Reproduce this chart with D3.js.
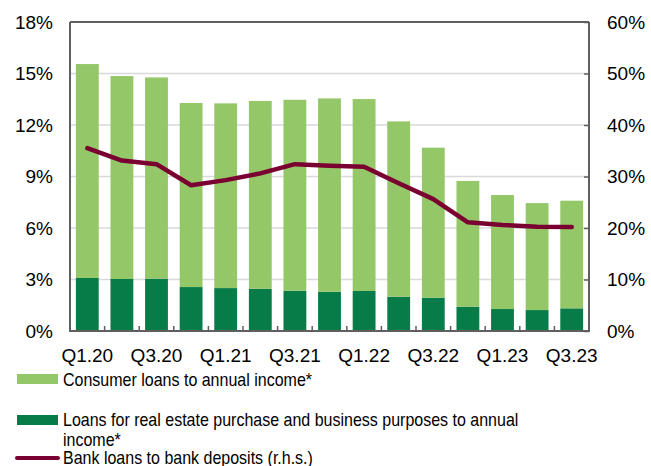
<html>
<head>
<script src="https://d3js.org/d3.v7.min.js"></script>
<style>
  body { margin: 0; background: #fff; }
  text { font-family: "Liberation Sans", Arial, sans-serif; fill: #000; }
</style>
</head>
<body>
<script>
// data
var quarters = ["Q1.20","Q2.20","Q3.20","Q4.20","Q1.21","Q2.21","Q3.21","Q4.21",
                "Q1.22","Q2.22","Q3.22","Q4.22","Q1.23","Q2.23","Q3.23"];
var realEstate = [3.09,3.03,3.05,2.56,2.50,2.46,2.35,2.29,2.33,2.00,1.94,1.42,1.28,1.22,1.32];
var consumer = [12.46,11.82,11.72,10.72,10.76,10.94,11.12,11.26,11.18,10.21,8.74,7.32,6.64,6.23,6.27];
var loansToDeposits = [35.5,33.1,32.4,28.3,29.3,30.6,32.4,32.1,31.9,28.7,25.6,21.1,20.6,20.25,20.2];
var leftTicks = [0,3,6,9,12,15,18];
var rightTicks = [0,10,20,30,40,50,60];
var shownLabels = ["Q1.20","Q3.20","Q1.21","Q3.21","Q1.22","Q3.22","Q1.23","Q3.23"];

var W = 651, H = 466;
var pLeft = 70, pRight = 589, pTop = 22, pBottom = 331;

var cLight = "#93c767", cDark = "#077c48", cLine = "#7b0032", cAxis = "#5f5f5f", cGrid = "#d9d9d9";

var svg = d3.select("body").append("svg").attr("width", W).attr("height", H);

var x = d3.scaleBand().domain(quarters).range([pLeft, pRight]).paddingInner(0.34).paddingOuter(0.17);
var y = d3.scaleLinear().domain([0, 18]).range([pBottom, pTop]);
var y2 = d3.scaleLinear().domain([0, 60]).range([pBottom, pTop]);

// gridlines
svg.append("g").selectAll("line").data(leftTicks.slice(1, -1)).enter().append("line")
  .attr("x1", pLeft).attr("x2", pRight)
  .attr("y1", function(d){ return y(d); }).attr("y2", function(d){ return y(d); })
  .attr("stroke", cGrid).attr("stroke-width", 1.3);

// stacked bars
var stack = quarters.map(function(q, i){ return {q: q, re: realEstate[i], co: consumer[i]}; });
svg.append("g").selectAll("rect").data(stack).enter().append("rect")
  .attr("x", function(d){ return x(d.q); })
  .attr("width", x.bandwidth())
  .attr("y", function(d){ return y(d.re); })
  .attr("height", function(d){ return y(0) - y(d.re); })
  .attr("fill", cDark);
svg.append("g").selectAll("rect").data(stack).enter().append("rect")
  .attr("x", function(d){ return x(d.q); })
  .attr("width", x.bandwidth())
  .attr("y", function(d){ return y(d.re + d.co); })
  .attr("height", function(d){ return y(d.re) - y(d.re + d.co); })
  .attr("fill", cLight);

// line on right axis
var line = d3.line()
  .x(function(d, i){ return x(quarters[i]) + x.bandwidth() / 2; })
  .y(function(d){ return y2(d); });
svg.append("path").datum(loansToDeposits)
  .attr("d", line).attr("fill", "none")
  .attr("stroke", cLine).attr("stroke-width", 4.5)
  .attr("stroke-linejoin", "round").attr("stroke-linecap", "round");

// frame
var frame = svg.append("g").attr("stroke", cAxis).attr("stroke-width", 2);
frame.append("line").attr("x1", pLeft).attr("x2", pRight).attr("y1", pTop).attr("y2", pTop);
frame.append("line").attr("x1", pLeft).attr("x2", pLeft).attr("y1", pTop).attr("y2", pBottom + 1);
frame.append("line").attr("x1", pRight).attr("x2", pRight).attr("y1", pTop).attr("y2", pBottom + 1);

// left axis
var yAxis = d3.axisLeft(y).tickValues(leftTicks).tickSize(0).tickPadding(17)
  .tickFormat(function(d){ return d + "%"; });
var gl = svg.append("g").attr("transform", "translate(" + pLeft + ",0)").call(yAxis);
gl.select(".domain").remove();
gl.selectAll("text").style("font-size", "19px").style("font-family", "'Liberation Sans', Arial, sans-serif").attr("fill", "#000");

// right axis, ticks inward
var yAxis2 = d3.axisRight(y2).tickValues(rightTicks).tickSize(0).tickPadding(18)
  .tickFormat(function(d){ return d + "%"; });
var gr = svg.append("g").attr("transform", "translate(" + pRight + ",0)").call(yAxis2);
gr.select(".domain").remove();
gr.selectAll("text").style("font-size", "19px").style("font-family", "'Liberation Sans', Arial, sans-serif").attr("fill", "#000");
gr.selectAll(".tick").append("line").attr("x1", -5).attr("x2", 0).attr("stroke", cAxis).attr("stroke-width", 1.5);

// bottom axis: ticks inward at band boundaries, labels every other quarter
var xb = d3.scaleLinear().domain([0, quarters.length]).range([pLeft, pRight]);
var gb = svg.append("g").attr("transform", "translate(0," + pBottom + ")");
gb.append("line").attr("x1", pLeft - 1).attr("x2", pRight + 1).attr("y1", 0).attr("y2", 0)
  .attr("stroke", cAxis).attr("stroke-width", 2);
gb.selectAll("line.tk").data(d3.range(1, quarters.length)).enter().append("line").attr("class", "tk")
  .attr("x1", function(d){ return xb(d); }).attr("x2", function(d){ return xb(d); })
  .attr("y1", -5).attr("y2", 0).attr("stroke", cAxis).attr("stroke-width", 1.5);
gb.selectAll("text").data(shownLabels).enter().append("text")
  .attr("x", function(d){ return x(d) + x.bandwidth() / 2; })
  .attr("y", 31)
  .attr("text-anchor", "middle")
  .style("font-size", "19px")
  .text(function(d){ return d; });

// legend
var lg = svg.append("g");
lg.append("rect").attr("x", 17).attr("y", 374).attr("width", 41).attr("height", 10).attr("fill", cLight);
lg.append("rect").attr("x", 17).attr("y", 415).attr("width", 41).attr("height", 10).attr("fill", cDark);
lg.append("line").attr("x1", 17).attr("x2", 58).attr("y1", 458).attr("y2", 458)
  .attr("stroke", cLine).attr("stroke-width", 4).attr("stroke-linecap", "round");

var legendText = [
  ["Consumer loans to annual income*", 386],
  ["Loans for real estate purchase and business purposes to annual", 426],
  ["income*", 446],
  ["Bank loans to bank deposits (r.h.s.)", 464]
];
lg.selectAll("text").data(legendText).enter().append("text")
  .attr("transform", function(d){ return "translate(63," + d[1] + ") scale(0.89,1)"; })
  .style("font-size", "18px")
  .text(function(d){ return d[0]; });
</script>
</body>
</html>
